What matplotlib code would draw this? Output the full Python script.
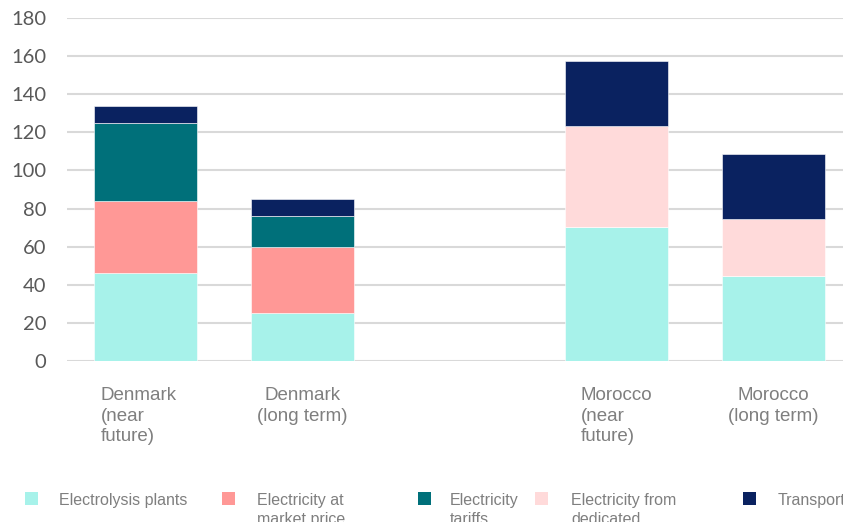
import matplotlib
matplotlib.use("Agg")
import matplotlib.pyplot as plt
import matplotlib.transforms as mtransforms
from matplotlib.patches import Rectangle
import numpy as np

categories = ["Denmark\n(near\nfuture)", "Denmark\n(long term)", "", "Morocco\n(near\nfuture)", "Morocco\n(long term)"]
series_names = ["Electrolysis plants", "Electricity at\nmarket price", "Electricity\ntariffs",
                "Electricity from\ndedicated", "Transport"]
electrolysis = [46, 25, 0, 70.5, 44.6]
market_price = [38, 35, 0, 0, 0]
tariffs = [41, 16, 0, 0, 0]
dedicated = [0, 0, 0, 53, 30]
transport = [9, 9, 0, 34, 34]
yticks = [0, 20, 40, 60, 80, 100, 120, 140, 160, 180]

colors = ["#A7F2EA", "#FF9896", "#00707A", "#FFDADA", "#0A2260"]
series = [electrolysis, market_price, tariffs, dedicated, transport]

W, H = 843, 522
fig = plt.figure(figsize=(W / 100, H / 100), dpi=100)
left, right, top, bottom = 67, 852, 18, 361
ax = fig.add_axes([left / W, 1 - bottom / H, (right - left) / W, (bottom - top) / H])

x = np.arange(len(categories))
base = np.zeros(len(categories))
for vals, c in zip(series, colors):
    v = np.array(vals, dtype=float)
    ax.bar(x, v, bottom=base, width=0.66, color=c, edgecolor="white", linewidth=0.4, zorder=3)
    base += v

ax.set_xlim(-0.5, 4.5)
ax.set_ylim(0, 180)
ax.set_yticks(yticks)
ax.yaxis.grid(True, color="#D9D9D9", linewidth=1.5, zorder=0)
ax.set_axisbelow(True)
for s in ax.spines.values():
    s.set_visible(False)
ax.tick_params(axis="y", length=0, pad=15, labelsize=14.5, labelcolor="#595959")
for lab in ax.get_yticklabels():
    lab.set_family("Lato")
ax.set_xticks(x)
ax.set_xticklabels(categories)
ax.tick_params(axis="x", length=0, pad=19, labelsize=13.5, labelcolor="#7F7F7F")
for i, (lab, name) in enumerate(zip(ax.get_xticklabels(), categories)):
    lab.set_family("Liberation Sans")
    lab.set_linespacing(1.25)
    lab.set_verticalalignment("top")
    if name.count("\n") == 2:
        lab.set_multialignment("left")
    else:
        lab.set_multialignment("center")
    if i == 0:
        lab.set_transform(lab.get_transform() +
                          mtransforms.ScaledTranslation(-7 / 100, 0, fig.dpi_scale_trans))

# Legend (manual, Excel-style, clipped at bottom)
marker_x = [25, 222, 418, 535, 743]
text_x = [59, 257, 450, 571, 778]
for mx, tx, name, c in zip(marker_x, text_x, series_names, colors):
    fig.add_artist(Rectangle((mx / W, 1 - 505 / H), 13 / W, 13 / H, transform=fig.transFigure,
                             facecolor=c, edgecolor="none"))
    fig.text(tx / W, 1 - 493 / H, name, ha="left", va="top", fontsize=11.5,
             family="Liberation Sans", color="#7F7F7F", linespacing=1.3)

fig.savefig("out.png", dpi=100)
